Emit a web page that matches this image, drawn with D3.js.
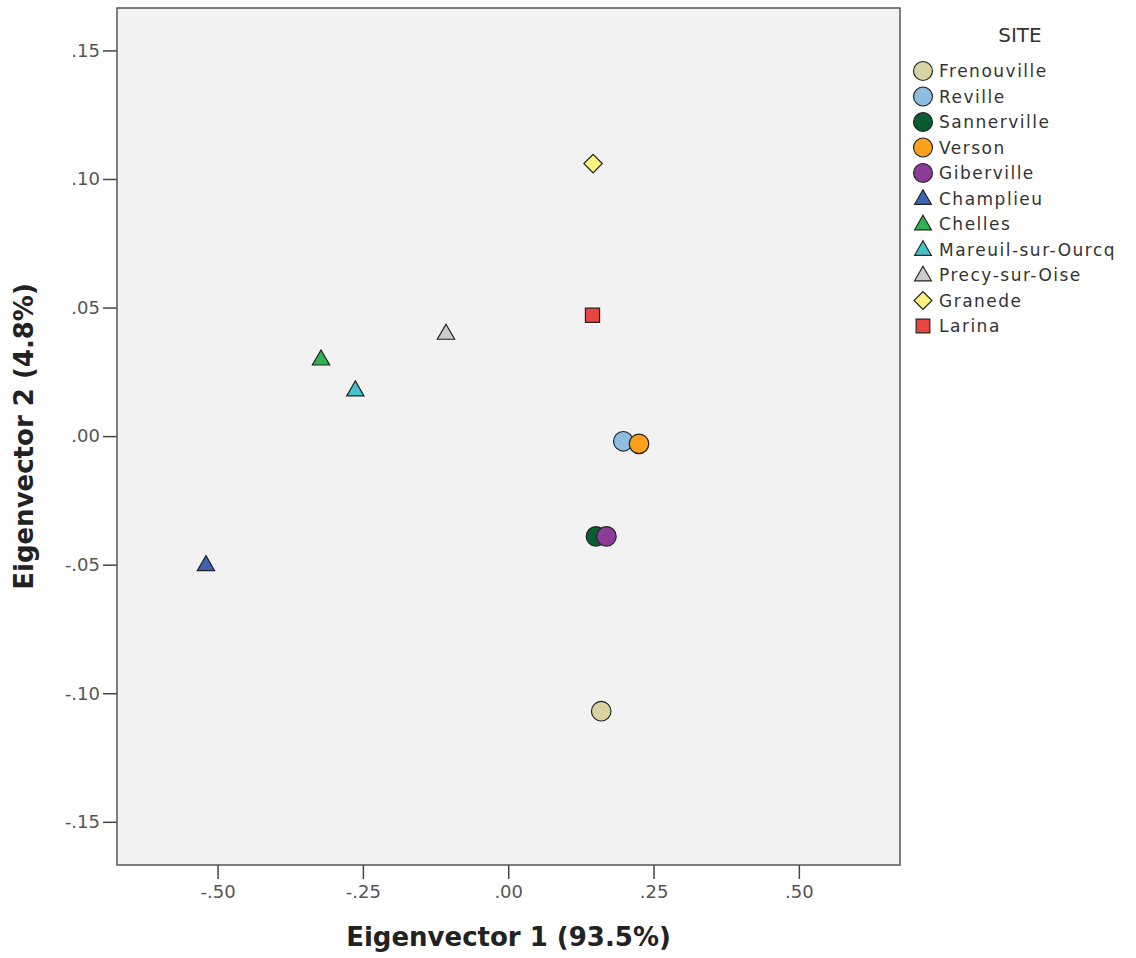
<!DOCTYPE html>
<html>
<head>
<meta charset="utf-8">
<script src="https://cdn.jsdelivr.net/npm/d3@7"></script>
<style>
  body { margin: 0; background: #fff; }
  text { font-family: "DejaVu Sans", sans-serif; }
</style>
</head>
<body>
<div id="vis"></div>
<script>
// data
const sites = ["Frenouville", "Reville", "Sannerville", "Verson", "Giberville",
  "Champlieu", "Chelles", "Mareuil-sur-Ourcq", "Precy-sur-Oise", "Granede", "Larina"];
const ev1 = [0.160, 0.198, 0.151, 0.225, 0.169, -0.520, -0.322, -0.263, -0.107, 0.146, 0.145];
const ev2 = [-0.107, -0.002, -0.039, -0.003, -0.039, -0.050, 0.030, 0.018, 0.040, 0.106, 0.047];
const shapes = ["circle", "circle", "circle", "circle", "circle",
  "triangle", "triangle", "triangle", "triangle", "diamond", "square"];
const colors = ["#d9d3a3", "#8fbde2", "#0a5c33", "#f9a11d", "#8b3c97",
  "#3f62b3", "#2fb251", "#44c1c9", "#cbcbcb", "#faf282", "#ea4543"];
const xTicks = [-0.5, -0.25, 0, 0.25, 0.5];
const yTicks = [-0.15, -0.1, -0.05, 0, 0.05, 0.1, 0.15];

const W = 1136, H = 958;
let margin = { top: 8, left: 117, right: 236, bottom: 93 };
let width = W - margin.left - margin.right,
  height = H - margin.top - margin.bottom;

let svg = d3.select("#vis").append("svg")
  .attr("width", W).attr("height", H);

let x = d3.scaleLinear().domain([-0.673, 0.674]).range([0, width]);
let y = d3.scaleLinear().domain([-0.1668, 0.1665]).range([height, 0]);

let g = svg.append("g").attr("transform", `translate(${margin.left},${margin.top})`);

g.append("rect")
  .attr("width", width).attr("height", height)
  .attr("fill", "#f2f2f2");

// strips the leading zero like SPSS does
const fmt = d => d3.format(".2f")(d).replace("0.", ".").replace("−", "-");

let xAxis = g.append("g")
  .attr("transform", `translate(0,${height})`)
  .call(d3.axisBottom(x).tickValues(xTicks).tickFormat(fmt).tickSize(14).tickSizeOuter(0));
let yAxis = g.append("g")
  .call(d3.axisLeft(y).tickValues(yTicks).tickFormat(fmt).tickSize(14).tickSizeOuter(0));

[xAxis, yAxis].forEach(a => {
  a.select(".domain").remove();
  a.selectAll(".tick line").attr("stroke", "#444").attr("stroke-width", 1.5);
  a.selectAll(".tick text").attr("fill", "#555").style("font-size", "18px")
    .style("font-family", "DejaVu Sans");
});
xAxis.selectAll(".tick text").attr("y", 20).attr("dy", "0.71em");
yAxis.selectAll(".tick text").attr("x", -17);

g.append("rect")
  .attr("width", width).attr("height", height)
  .attr("fill", "none").attr("stroke", "#555").attr("stroke-width", 1.5);

// symbol generator per shape name
const symbolPath = {
  circle: d3.symbol(d3.symbolCircle, 300)(),
  triangle: d3.symbol(d3.symbolTriangle, 130)(),
  diamond: d3.symbol(d3.symbolSquare, 170)(),
  square: d3.symbol(d3.symbolSquare, 200)()
};
function drawSymbol(sel, i) {
  sel.append("path")
    .attr("d", symbolPath[shapes[i]])
    .attr("transform", shapes[i] === "diamond" ? "rotate(45)" :
      shapes[i] === "triangle" ? "translate(0,1)" : null)
    .attr("fill", colors[i])
    .attr("stroke", "#222").attr("stroke-width", 1.2);
}

sites.forEach((s, i) => {
  let p = g.append("g").attr("transform", `translate(${x(ev1[i])},${y(ev2[i])})`);
  drawSymbol(p, i);
});

// axis titles
svg.append("text")
  .attr("x", margin.left + width / 2).attr("y", 946)
  .attr("text-anchor", "middle")
  .style("font-size", "26px").style("font-weight", "bold")
  .attr("fill", "#222")
  .text("Eigenvector 1 (93.5%)");
svg.append("text")
  .attr("transform", `translate(33,${margin.top + height / 2}) rotate(-90)`)
  .attr("text-anchor", "middle")
  .style("font-size", "26px").style("font-weight", "bold")
  .attr("fill", "#222")
  .text("Eigenvector 2 (4.8%)");

// legend
let legend = svg.append("g");
legend.append("text")
  .attr("x", 1020).attr("y", 42).attr("text-anchor", "middle")
  .style("font-size", "20px").attr("fill", "#333").text("SITE");
sites.forEach((s, i) => {
  let row = legend.append("g").attr("transform", `translate(923,${71 + i * 25.5})`);
  let sym = row.append("g").attr("transform", "scale(0.97)");
  drawSymbol(sym, i);
  row.append("text")
    .attr("x", 16).attr("y", 6)
    .style("font-size", "17px").style("letter-spacing", "1.5px").attr("fill", "#333")
    .text(s);
});
</script>
</body>
</html>
